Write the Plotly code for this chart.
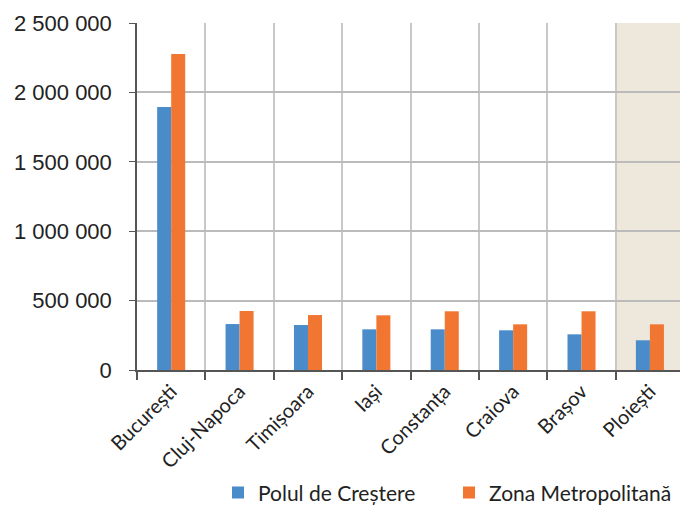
import plotly.graph_objects as go

categories = ["București", "Cluj-Napoca", "Timișoara", "Iași", "Constanța", "Craiova", "Brașov", "Ploiești"]
polul = [1895000, 331000, 324000, 293000, 293000, 286000, 257000, 214000]
zona = [2277000, 425000, 396000, 394000, 423000, 329000, 423000, 329000]
series_names = ["Polul de Creștere", "Zona Metropolitană"]
y_ticks = [0, 500000, 1000000, 1500000, 2000000, 2500000]

fig = go.Figure()
fig.add_trace(go.Bar(x=categories, y=polul, name=series_names[0], marker_color="#4A8BCA", marker_line_width=0))
fig.add_trace(go.Bar(x=categories, y=zona, name=series_names[1], marker_color="#F17632", marker_line_width=0))

fig.add_shape(type="rect", xref="x", yref="y", x0=6.5, x1=7.6, y0=0, y1=2500000,
              fillcolor="#EEE7DB", line_width=0, layer="below")

fig.update_layout(
    width=680, height=524,
    margin=dict(l=137, r=0, t=23, b=154),
    plot_bgcolor="white", paper_bgcolor="white",
    barmode="group", bargap=0.59, bargroupgap=0,
    separators=", ",
    showlegend=True,
    legend=dict(orientation="h", xanchor="right", x=1.0, yanchor="middle", y=-0.354,
                font=dict(family="Lato", size=21, color="#222"), itemwidth=30,
                entrywidth=186, entrywidthmode="pixels",
                traceorder="normal"),
    xaxis=dict(type="category", range=[-0.5, 7.44], tickson="boundaries", ticks="outside",
               ticklen=8, tickcolor="#555", tickwidth=2, showline=True, linecolor="#555", linewidth=2,
               showgrid=True, gridcolor="#C8C8C8", gridwidth=1.5, tickangle=-45, automargin=False,
               tickfont=dict(family="Lato", size=20, color="#222")),
    yaxis=dict(range=[0, 2500000], tickvals=y_ticks, tickformat=",d", ticks="outside",
               ticklen=6, tickcolor="#555", showline=True, linecolor="#555", linewidth=1.5,
               showgrid=True, gridcolor="#BBBBBB", gridwidth=1.5, zeroline=False, automargin=False,
               ticklabelstandoff=13,
               tickfont=dict(family="Liberation Sans", size=22, color="#222")),
)

fig.write_html("out.html", config={"displayModeBar": False},
               post_script="document.body.style.margin='0';document.body.style.overflow='hidden';document.documentElement.style.overflow='hidden';")
